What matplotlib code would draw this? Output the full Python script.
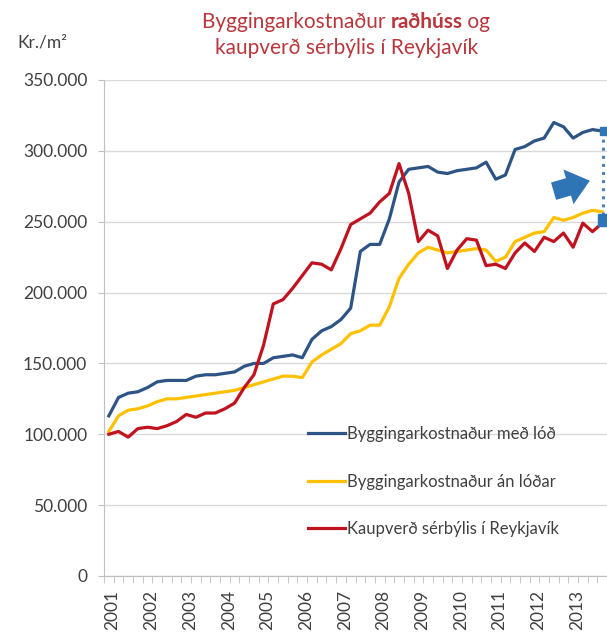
import numpy as np
import matplotlib
matplotlib.use("Agg")
import matplotlib.pyplot as plt
from matplotlib.patches import FancyArrowPatch

plt.rcParams['font.family'] = ['Lato', 'DejaVu Sans']

# Ársfjórðungsgögn 2001-2013 (kr./m2)
ar = [str(a) for a in range(2001, 2014)]

med_lod = [113000, 126000, 129000, 130000, 133000, 137000, 138000, 138000,
           138000, 141000, 142000, 142000, 143000, 144000, 148000, 150000,
           150000, 154000, 155000, 156000, 154000, 167000, 173000, 176000,
           181000, 189000, 229000, 234000, 234000, 252000, 278000, 287000,
           288000, 289000, 285000, 284000, 286000, 287000, 288000, 292000,
           280000, 283000, 301000, 303000, 307000, 309000, 320000, 317000,
           309000, 313000, 315000, 314000]

an_lodar = [102000, 113000, 117000, 118000, 120000, 123000, 125000, 125000,
            126000, 127000, 128000, 129000, 130000, 131000, 133000, 135000,
            137000, 139000, 141000, 141000, 140000, 151000, 156000, 160000,
            164000, 171000, 173000, 177000, 177000, 190000, 210000, 220000,
            228000, 232000, 230000, 228000, 229000, 230000, 231000, 230000,
            222000, 225000, 236000, 239000, 242000, 243000, 253000, 251000,
            253000, 256000, 258000, 257000]

kaupverd = [100000, 102000, 98000, 104000, 105000, 104000, 106000, 109000,
            114000, 112000, 115000, 115000, 118000, 122000, 133000, 142000,
            163000, 192000, 195000, 203000, 212000, 221000, 220000, 216000,
            231000, 248000, 252000, 256000, 264000, 270000, 291000, 270000,
            236000, 244000, 240000, 217000, 230000, 238000, 237000, 219000,
            220000, 217000, 228000, 235000, 229000, 239000, 236000, 242000,
            232000, 249000, 243000, 249000]

heiti = ['Byggingarkostnaður með lóð', 'Byggingarkostnaður án lóðar',
         'Kaupverð sérbýlis í Reykjavík']
litir = ['#2E5485', '#FFC000', '#C0121F']

x = np.arange(len(med_lod))

fig = plt.figure(figsize=(6.07, 6.33), dpi=100)
ax = fig.add_axes([104 / 607, 1 - 576 / 633, 1 - 104 / 607, (576 - 80) / 633])

for y, nafn, lit in zip([med_lod, an_lodar, kaupverd], heiti, litir):
    ax.plot(x, y, color=lit, lw=2.3, label=nafn, solid_joinstyle='round')

ax.set_xlim(-0.5, len(x) - 0.5)
ax.set_ylim(0, 350000)
ax.set_yticks(np.arange(0, 350001, 50000))
ax.set_yticklabels(['0'] + ['{:,}'.format(v).replace(',', '.') for v in range(50000, 350001, 50000)])
ax.yaxis.grid(True, color='#D9D9D9', lw=1)
ax.set_axisbelow(True)

ax.set_xticks(np.arange(0, len(x), 4) + 0.4)
ax.set_xticklabels(ar, rotation=90)
ax.set_xticks(np.arange(-0.5, len(x), 1), minor=True)
ax.tick_params(axis='x', which='major', length=0, pad=10, labelsize=12.5, colors='#404040')
ax.tick_params(axis='x', which='minor', length=5, color='#BFBFBF')
ax.tick_params(axis='y', length=4, color='#BFBFBF', labelsize=12.5, labelcolor='#404040', pad=8)

for s in ['top', 'right']:
    ax.spines[s].set_visible(False)
for s in ['left', 'bottom']:
    ax.spines[s].set_color('#BFBFBF')

leg = ax.legend(loc='upper left', bbox_to_anchor=(308 / 607, 1 - 426 / 633),
                bbox_transform=fig.transFigure, frameon=False, borderpad=0,
                borderaxespad=0, fontsize=12, handlelength=2.2,
                handletextpad=0.15, labelspacing=1.9)
for t in leg.get_texts():
    t.set_color('#404040')

# ör og punktalína
ax.add_patch(FancyArrowPatch((45.7, 271000), (50.0, 279500),
                             arrowstyle='simple,head_width=2.6,head_length=1.6,tail_width=1.3',
                             mutation_scale=10, color='#2E75B6', lw=0))
ax.plot([x[-1] + 0.1] * 2, [med_lod[-1], kaupverd[-1]], ls=':', color='#4F81BD', lw=2.2, clip_on=False)
ax.plot([x[-1] + 0.2], [med_lod[-1]], marker='s', ms=6, color='#2E75B6', clip_on=False)
ax.plot([x[-1] + 0.2], [kaupverd[-1] + 2000], marker='s', ms=8, color='#2E75B6', clip_on=False)

fig.text(17 / 607, 1 - 43 / 633, 'Kr./m²', fontsize=12.5, color='#404040', va='center')

# titill, hluti feitletraður
tcol = '#B8373C'
fs = 15
y1 = 1 - 22 / 633
t1 = fig.text(0, y1, 'Byggingarkostnaður ', fontsize=fs, color=tcol, va='center')
t2 = fig.text(0, y1, 'raðhúss', fontsize=fs, color=tcol, va='center', weight='bold')
t3 = fig.text(0, y1, ' og', fontsize=fs, color=tcol, va='center')
fig.canvas.draw()
r = fig.canvas.get_renderer()
w = [t.get_window_extent(r).width / fig.bbox.width for t in (t1, t2, t3)]
x0 = 346 / 607 - sum(w) / 2
t1.set_x(x0)
t2.set_x(x0 + w[0])
t3.set_x(x0 + w[0] + w[1])
fig.text(347 / 607, 1 - 48 / 633, 'kaupverð sérbýlis í Reykjavík', fontsize=fs,
         color=tcol, va='center', ha='center')

fig.savefig('out.png', dpi=100)
